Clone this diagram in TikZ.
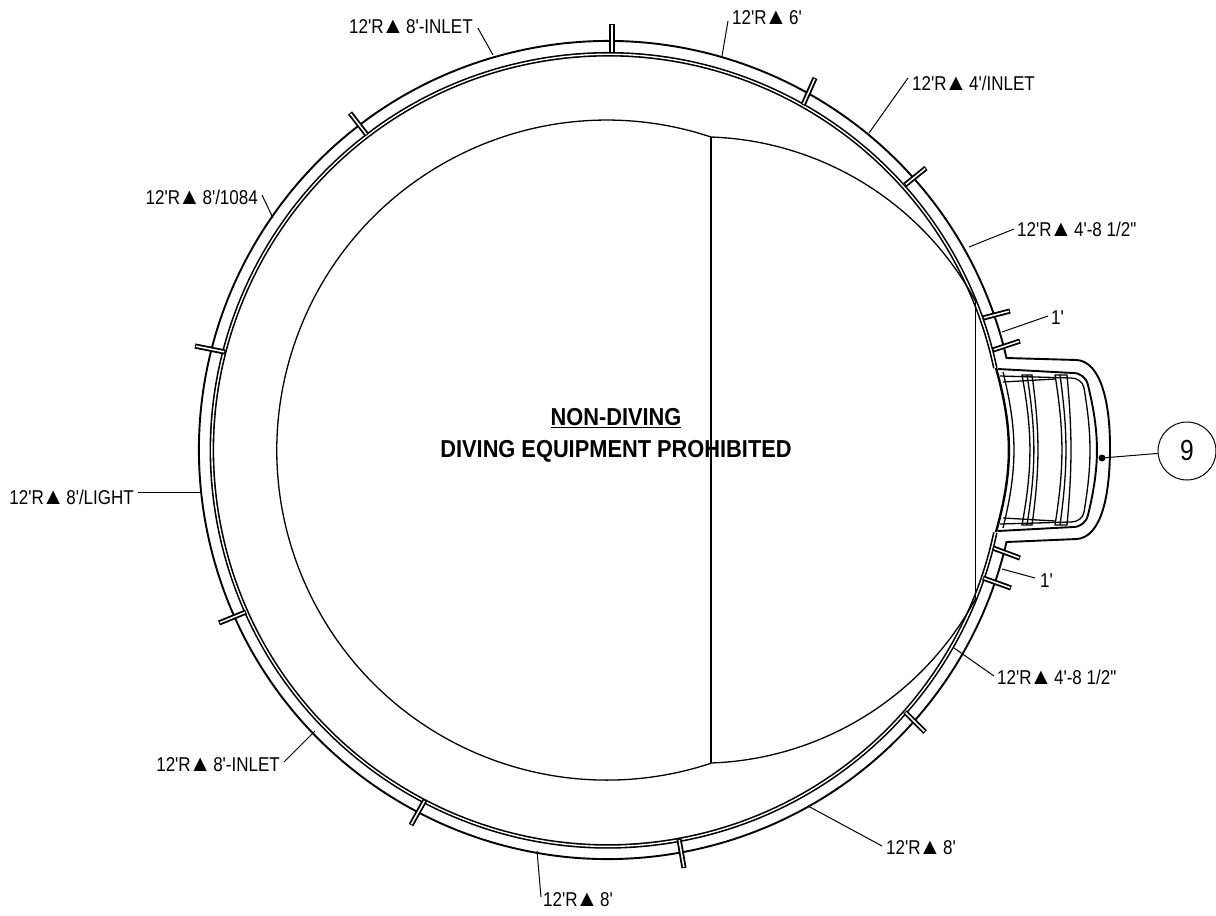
\documentclass[tikz,border=0pt]{standalone}
\usepackage{fontspec}
\newfontfamily\lblfont[FakeStretch=0.85]{Liberation Sans}
\newfontfamily\boldfont[FakeStretch=0.89]{Liberation Sans}
\newfontfamily\trifont{Liberation Sans}
\newcommand{\trimark}{\kern-2pt{\trifont\fontsize{23}{23}\selectfont ▲}\kern-3pt}
\usepackage{tikz}
\usetikzlibrary{positioning,
				calc}
\tikzset{poolline/.style={line width=1.9pt},
		thinline/.style={line width=1.3pt},
		leader/.style={line width=1pt},
		lbl/.style={font=\lblfont\fontsize{20}{22}\selectfont,inner sep=0pt,text=black},
		boldlbl/.style={font=\boldfont\bfseries\fontsize{24.5}{26}\selectfont,inner sep=0pt,text=black}}
\begin{document}
\begin{tikzpicture}[x=1pt,y=1pt]
			\useasboundingbox (0,0) rectangle (1216,-916);
			\coordinate (poolc) at (608,-450);
			\draw[poolline] (1006.5,-358) arc(13:347:409)
				-- (1077,-539) .. controls (1100,-537) and (1110,-500) .. (1110,-447) .. controls (1110,-400) and (1100,-362) .. (1077,-360) -- cycle;
			\draw[double,line width=1.6pt,double distance=1.4pt] (995.3,-368) arc(12:348:396);
			\draw[thinline] (711,-137) arc(71.6:288.4:330);
			\draw[thinline] (711,-137) arc(88:28.3:313) coordinate (stepa);
			\draw[thinline] (711,-763) arc(-88:-28.3:313) coordinate (stepb);
			\draw[thinline] (711,-137) -- (711,-763);
			\draw[thinline] (stepa) -- (stepb);
			\foreach \xa/\ya/\xb/\yb in {612/24/612/53,815/78/803/105,926/168/905/185,1010/311/983/318,1020/341/993/350,1020/558/993/548,1011/588/983/578,925/732/905/712,684/868/679/839,411/825/425/800,219/623/246/612,195/346/225/352,350/113/367/135}{
				\draw[line width=5.2pt] (\xa,-\ya) -- (\xb,-\yb);
				\draw[white,line width=1.5pt,shorten >=1pt,shorten <=1pt] (\xa,-\ya) -- (\xb,-\yb);
			}
			\draw[line width=2.4pt] (996,-368) to[bend left=15.6] (996,-532);
			\draw[thinline] (1003,-372) to[bend left=13.9] (1003,-528);
			\draw[poolline] (998,-369) -- (1073,-373) to[out=0,in=104] (1088,-385) to[bend left=13.6] (1088,-515) to[out=-104,in=0] (1073,-527) -- (998,-531);
			\draw[thinline] (1000,-376) -- (1071,-378) to[out=0,in=100] (1084,-388) to[bend left=9.5] (1084,-512) to[out=-100,in=0] (1071,-522) -- (1000,-524);
			\draw[thinline] (1003,-382) -- (1055,-379) (1003,-518) -- (1055,-521);
			\draw[thinline] (1022,-375) to[bend left=10.4] (1022,-525) -- (1032,-525) to[bend right=7.8] (1032,-375) -- cycle;
			\draw[thinline] (1027,-375) to[bend left=9] (1027,-525);
			\draw[thinline] (1055,-375) to[bend left=9.1] (1055,-525) -- (1067,-525) to[bend right=5.2] (1067,-375) -- cycle;
			\draw[thinline] (1060,-375) to[bend left=7.8] (1060,-525);
			\node[lbl,anchor=west] (inleta) at (349,-27) {12'R\trimark{} 8'-INLET};
			\node[lbl,anchor=west] (sixa) at (732,-18) {12'R\trimark{} 6'};
			\node[lbl,anchor=west] (inletb) at (912,-83) {12'R\trimark{} 4'/INLET};
			\node[lbl,anchor=west] (halfa) at (1017,-229) {12'R\trimark{} 4'-8 1/2"};
			\node[lbl,anchor=west] (onea) at (1051,-318) {1'};
			\node[lbl,anchor=west] (oneb) at (1040,-581) {1'};
			\node[lbl,anchor=west] (halfb) at (997,-677) {12'R\trimark{} 4'-8 1/2"};
			\node[lbl,anchor=west] (eighta) at (886,-848) {12'R\trimark{} 8'};
			\node[lbl,anchor=west] (eightb) at (543,-900) {12'R\trimark{} 8'};
			\node[lbl,anchor=east] (inletc) at (280,-765) {12'R\trimark{} 8'-INLET};
			\node[lbl,anchor=east] (light) at (134,-497) {12'R\trimark{} 8'/LIGHT};
			\node[lbl,anchor=east] (eightc) at (258,-197) {12'R\trimark{} 8'/1084};
			\draw[leader] (inleta.east) ++(5,-1) -- (493,-55);
			\draw[leader] (sixa.west) ++(-4,-3) -- (722,-56);
			\draw[leader] (inletb.west) ++(-4,5) -- (869,-133);
			\draw[leader] (halfa.west) ++(-3,0) -- (969,-247);
			\draw[leader] (onea.west) ++(-3,2) -- (1002,-332);
			\draw[leader] (oneb.west) ++(-5,3) -- (1002,-569);
			\draw[leader] (halfb.west) ++(-3,1) -- (954,-648);
			\draw[leader] (eighta.west) ++(-4,2) -- (808,-806);
			\draw[leader] (eightb.west) ++(-2,3) -- (537,-851);
			\draw[leader] (inletc.east) ++(4,3) -- (315,-731);
			\draw[leader] (light.east) ++(4,5) -- (201,-492);
			\draw[leader] (eightc.east) ++(4,2) -- (273,-218);
			\node[boldlbl] (nondiving) at (616,-418) {\underline{NON-DIVING}};
			\node[boldlbl] (prohibited) at (616,-451) {DIVING EQUIPMENT PROHIBITED};
			\node[draw,circle,line width=1pt,minimum size=58pt,inner sep=0pt,font=\lblfont\fontsize{29}{31}\selectfont] (nine) at (1187,-451) {9};
			\fill (1102,-458) circle (3.5) coordinate (dot);
			\draw[leader] (dot) -- (nine);
		\end{tikzpicture}
\end{document}
